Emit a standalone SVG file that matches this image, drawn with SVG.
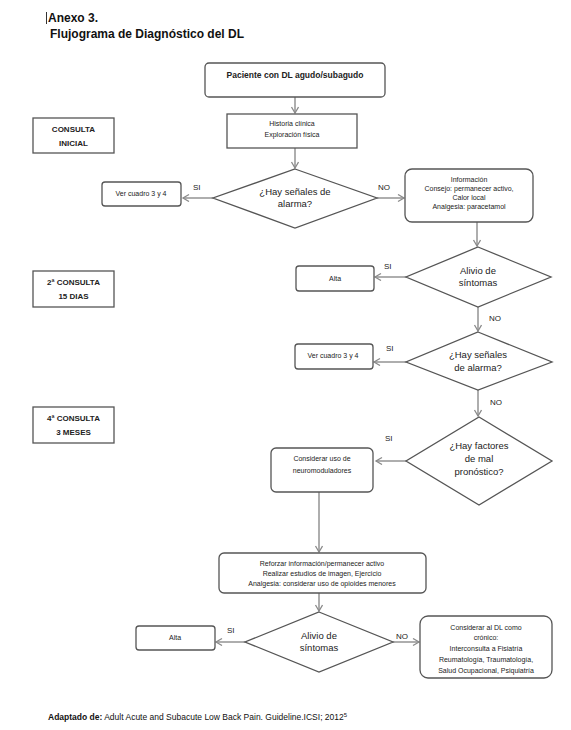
<svg xmlns="http://www.w3.org/2000/svg" width="571" height="730" viewBox="0 0 571 730">
<style>
.bg{fill:#fff}
.box{fill:#fff;stroke:#555;stroke-width:1.3}
.dia{fill:#fff;stroke:#555;stroke-width:1.3}
.t{font-family:"Liberation Sans",Arial,sans-serif;fill:#222;text-anchor:middle}
.s{font-size:7px}
.m{font-size:9.5px}
.b{font-weight:bold}
.lab{font-family:"Liberation Sans",Arial,sans-serif;font-size:8px;fill:#222}
.c{fill:none;stroke:#9a9a9a;stroke-width:1.6}
.h{font-family:"Liberation Sans",Arial,sans-serif;font-weight:bold;font-size:12px;fill:#111}
</style>
<defs>
<marker id="ah" markerWidth="10" markerHeight="10" refX="7" refY="4" orient="auto" markerUnits="userSpaceOnUse">
<path d="M1,0.5 L7,4 L1,7.5" fill="none" stroke="#8a8a8a" stroke-width="1.3"/>
</marker>
</defs>
<rect class="bg" x="0" y="0" width="571" height="730"/>
<g id="title">
<line x1="46.5" y1="12" x2="46.5" y2="24" stroke="#333" stroke-width="1"/>
<text class="h" x="48" y="22">Anexo 3.</text>
<text class="h" x="50" y="38">Flujograma de Diagnóstico del DL</text>
</g>
<g id="connectors">
<line class="c" x1="295" y1="97" x2="295" y2="113" marker-end="url(#ah)"/>
<line class="c" x1="295" y1="148" x2="295" y2="168" marker-end="url(#ah)"/>
<line class="c" x1="213" y1="198" x2="183" y2="198" marker-end="url(#ah)"/>
<line class="c" x1="377" y1="198" x2="404" y2="198" marker-end="url(#ah)"/>
<line class="c" x1="477" y1="222" x2="477" y2="246" marker-end="url(#ah)"/>
<line class="c" x1="406" y1="277" x2="375" y2="277" marker-end="url(#ah)"/>
<line class="c" x1="478" y1="307" x2="478" y2="331" marker-end="url(#ah)"/>
<line class="c" x1="406" y1="362" x2="374" y2="362" marker-end="url(#ah)"/>
<line class="c" x1="478" y1="390" x2="478" y2="416" marker-end="url(#ah)"/>
<line class="c" x1="406" y1="461" x2="376" y2="461" marker-end="url(#ah)"/>
<line class="c" x1="319" y1="492" x2="319" y2="552" marker-end="url(#ah)"/>
<line class="c" x1="319" y1="593" x2="319" y2="611" marker-end="url(#ah)"/>
<line class="c" x1="245" y1="642" x2="216" y2="642" marker-end="url(#ah)"/>
<line class="c" x1="393" y1="642" x2="419" y2="642" marker-end="url(#ah)"/>
</g>
<g id="edge-labels">
<text class="lab" x="193" y="190">SI</text>
<text class="lab" x="378" y="190">NO</text>
<text class="lab" x="384" y="269">SI</text>
<text class="lab" x="489" y="321">NO</text>
<text class="lab" x="386" y="351">SI</text>
<text class="lab" x="490" y="405">NO</text>
<text class="lab" x="385" y="441">SI</text>
<text class="lab" x="227" y="633">SI</text>
<text class="lab" x="396" y="639">NO</text>
</g>
<g id="consulta-inicial">
<rect class="box" x="33" y="118" width="81" height="35"/>
<text class="t b" style="font-size:8px" x="73.5" y="132">CONSULTA</text>
<text class="t b" style="font-size:8px" x="73.5" y="146">INICIAL</text>
</g>
<g id="consulta-15">
<rect class="box" x="33" y="271" width="81" height="36"/>
<text class="t b" style="font-size:8px" x="73.5" y="285">2ª CONSULTA</text>
<text class="t b" style="font-size:8px" x="73.5" y="299">15 DIAS</text>
</g>
<g id="consulta-3m">
<rect class="box" x="33" y="407" width="81" height="36"/>
<text class="t b" style="font-size:8px" x="73.5" y="421">4ª CONSULTA</text>
<text class="t b" style="font-size:8px" x="73.5" y="435">3 MESES</text>
</g>
<g id="paciente">
<rect class="box" x="205" y="63" width="180" height="34" rx="4"/>
<text class="t b" style="font-size:8.5px" x="295" y="78">Paciente con DL agudo/subagudo</text>
</g>
<g id="historia">
<rect class="box" x="227" y="114" width="130" height="34"/>
<text class="t s" x="292" y="126">Historia clínica</text>
<text class="t s" x="292" y="137">Exploración física</text>
</g>
<g id="alarma1">
<polygon class="dia" points="295,169 377,198 295,228 213,198"/>
<text class="t m" x="295" y="195">¿Hay señales de</text>
<text class="t m" x="295" y="207">alarma?</text>
</g>
<g id="ver1">
<rect class="box" x="102" y="182" width="79" height="24" rx="3"/>
<text class="t s" x="141" y="196">Ver cuadro 3 y 4</text>
</g>
<g id="informacion">
<rect class="box" x="405" y="169" width="128" height="53" rx="7"/>
<text class="t s" x="469" y="182">Información</text>
<text class="t s" x="469" y="191">Consejo: permanecer activo,</text>
<text class="t s" x="469" y="200">Calor local</text>
<text class="t s" x="469" y="209">Analgesia: paracetamol</text>
</g>
<g id="alivio1">
<polygon class="dia" points="478,247 551,277 478,307 406,277"/>
<text class="t m" x="478" y="274">Alivio de</text>
<text class="t m" x="478" y="286">síntomas</text>
</g>
<g id="alta1">
<rect class="box" x="296" y="266" width="78" height="25" rx="3"/>
<text class="t s" x="335" y="281">Alta</text>
</g>
<g id="alarma2">
<polygon class="dia" points="478,332 552,362 478,390 406,362"/>
<text class="t m" x="478" y="358">¿Hay señales</text>
<text class="t m" x="478" y="371">de alarma?</text>
</g>
<g id="ver2">
<rect class="box" x="295" y="344" width="78" height="25" rx="3"/>
<text class="t s" x="333" y="358">Ver cuadro 3 y 4</text>
</g>
<g id="factores">
<polygon class="dia" points="479,417 552,461 479,505 406,461"/>
<text class="t m" x="479" y="449">¿Hay factores</text>
<text class="t m" x="479" y="462">de mal</text>
<text class="t m" x="479" y="475">pronóstico?</text>
</g>
<g id="neuromoduladores">
<rect class="box" x="271" y="448" width="102" height="44" rx="5"/>
<text class="t s" x="322" y="461">Considerar uso de</text>
<text class="t s" x="322" y="473">neuromoduladores</text>
</g>
<g id="reforzar">
<rect class="box" x="219" y="553" width="207" height="40" rx="5"/>
<text class="t s" x="322" y="566">Reforzar información/permanecer activo</text>
<text class="t s" x="322" y="576">Realizar estudios de imagen, Ejercicio</text>
<text class="t s" x="322" y="586">Analgesia: considerar uso de opioides menores</text>
</g>
<g id="alivio2">
<polygon class="dia" points="319,612 393,642 319,672 245,642"/>
<text class="t m" x="319" y="639">Alivio de</text>
<text class="t m" x="319" y="651">síntomas</text>
</g>
<g id="alta2">
<rect class="box" x="136" y="626" width="79" height="24" rx="3"/>
<text class="t s" x="175" y="640">Alta</text>
</g>
<g id="cronico">
<rect class="box" x="420" y="616" width="132" height="62" rx="8"/>
<text class="t s" x="486" y="630">Considerar al DL como</text>
<text class="t s" x="486" y="640">crónico:</text>
<text class="t s" x="486" y="651">Interconsulta a Fisiatría</text>
<text class="t s" x="486" y="662">Reumatología, Traumatología,</text>
<text class="t s" x="486" y="673">Salud Ocupacional, Psiquiatría</text>
</g>
<g id="footer">
<text x="48" y="720" style="font-family:'Liberation Sans',Arial,sans-serif;font-size:8.5px;fill:#111"><tspan font-weight="bold">Adaptado de:</tspan> Adult Acute and Subacute Low Back Pain. Guideline.ICSI; 2012<tspan font-size="6" dy="-3">5</tspan></text>
</g>
</svg>
